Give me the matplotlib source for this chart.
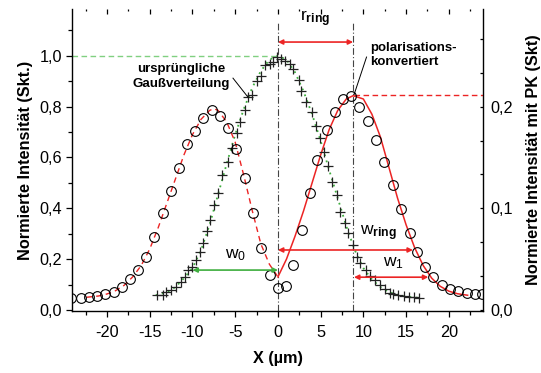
import matplotlib
matplotlib.use('Agg')
import matplotlib.pyplot as plt
from matplotlib.ticker import MultipleLocator, FixedLocator, FixedFormatter

plt.rcParams['font.family'] = ['Liberation Sans', 'DejaVu Sans']
plt.rcParams['mathtext.fontset'] = 'custom'
plt.rcParams['mathtext.rm'] = 'Liberation Sans'
plt.rcParams['mathtext.bf'] = 'Liberation Sans:bold'
plt.rcParams['mathtext.it'] = 'Liberation Sans:italic'

# ---------------- data ----------------
# polarisation-converted profile (circles), left-axis scale
circ_x = [-24.2, -23.1, -22.15, -21.2, -20.2, -19.2, -18.3, -17.3, -16.35, -15.4,
          -14.5, -13.5, -12.5, -11.55, -10.6, -9.7, -8.75, -7.75, -6.8, -5.8,
          -4.9, -3.9, -2.95, -1.95, -0.98, 0.0, 0.98, 1.76, 2.8, 3.7,
          4.6, 5.7, 6.67, 7.65, 8.55, 9.5, 10.5, 11.45, 12.4, 13.45,
          14.4, 15.4, 16.3, 17.25, 18.15, 19.15, 20.1, 21.1, 22.1, 23.05, 23.9]
circ_y = [0.046, 0.046, 0.050, 0.055, 0.063, 0.072, 0.089, 0.122, 0.157, 0.210,
          0.289, 0.380, 0.468, 0.558, 0.653, 0.706, 0.755, 0.785, 0.765, 0.715,
          0.633, 0.521, 0.380, 0.243, 0.138, 0.085, 0.094, 0.177, 0.315, 0.462,
          0.590, 0.709, 0.777, 0.829, 0.840, 0.797, 0.745, 0.667, 0.581, 0.492,
          0.396, 0.302, 0.230, 0.168, 0.129, 0.098, 0.083, 0.075, 0.068, 0.063, 0.062]

# original Gaussian profile (crosses)
cross_x = [-14.1, -13.5, -13.1, -12.5, -11.95, -11.4, -10.9, -10.5, -10.1, -9.6,
           -9.1, -8.75, -8.35, -7.95, -7.45, -6.98, -6.55, -5.9, -5.4, -4.8,
           -4.4, -3.8, -3.5, -3.05, -2.47, -1.95, -1.48, -0.9, -0.6, -0.1,
           0.4, 0.79, 1.38, 1.76, 2.47, 2.75, 3.34, 3.93, 4.44, 4.9,
           5.38, 5.88, 6.28, 6.94, 7.26, 7.85, 8.24, 8.82, 9.22, 9.6,
           10.3, 10.8, 11.4, 11.9, 12.55, 13.06, 13.5, 14.1, 14.7, 15.3, 15.9, 16.5]
cross_y = [0.059, 0.059, 0.070, 0.079, 0.092, 0.111, 0.131, 0.157, 0.171, 0.197,
           0.230, 0.262, 0.312, 0.354, 0.413, 0.459, 0.531, 0.581, 0.636, 0.695,
           0.741, 0.787, 0.836, 0.846, 0.900, 0.921, 0.964, 0.967, 0.974, 0.997,
           0.987, 0.980, 0.967, 0.947, 0.905, 0.860, 0.820, 0.780, 0.724, 0.676,
           0.623, 0.567, 0.505, 0.453, 0.385, 0.344, 0.304, 0.256, 0.210, 0.184,
           0.157, 0.135, 0.118, 0.098, 0.081, 0.068, 0.063, 0.059, 0.055, 0.052, 0.050, 0.046]

# fit curves
fitL_x = [-22.4, -21, -20, -19, -18, -17, -16, -15, -14, -13, -12, -11, -10, -9, -8,
          -7.5, -7, -6, -5, -4, -3, -2, -1, 0]
fitL_y = [0.050, 0.055, 0.063, 0.076, 0.097, 0.130, 0.175, 0.240, 0.325, 0.420, 0.515,
          0.610, 0.690, 0.750, 0.785, 0.792, 0.785, 0.740, 0.660, 0.530, 0.390, 0.260,
          0.180, 0.130]

fitR_x = [0, 1, 2, 3, 4, 5, 6, 7, 8, 8.8, 10, 11, 12, 13, 14, 15, 16, 17, 18, 19, 20, 21, 22.2]
fitR_y = [0.130, 0.200, 0.290, 0.390, 0.500, 0.610, 0.710, 0.785, 0.830, 0.843, 0.830,
          0.770, 0.680, 0.560, 0.440, 0.335, 0.245, 0.175, 0.125, 0.093, 0.074, 0.064, 0.058]

gauss_x = [-14.3, -13, -12, -11, -10, -9, -8, -7, -6, -5, -4, -3, -2, -1, 0,
           1, 2, 3, 4, 5, 6, 7, 8, 9, 10, 11, 12, 13, 14, 15, 16.4]
gauss_y = [0.058, 0.070, 0.090, 0.125, 0.165, 0.235, 0.335, 0.455, 0.575, 0.690,
           0.790, 0.875, 0.940, 0.985, 1.000, 0.985, 0.935, 0.860, 0.770, 0.665,
           0.550, 0.440, 0.330, 0.235, 0.165, 0.120, 0.090, 0.070, 0.060, 0.053, 0.048]

x_ticks = [-20, -15, -10, -5, 0, 5, 10, 15, 20]
x_ticklabels = ['-20', '-15', '-10', '-5', '0', '5', '10', '15', '20']
yl_ticks = [0.0, 0.2, 0.4, 0.6, 0.8, 1.0]
yl_ticklabels = ['0,0', '0,2', '0,4', '0,6', '0,8', '1,0']
yr_ticks = [0.0, 0.1, 0.2]
yr_ticklabels = ['0,0', '0,1', '0,2']

r_ring = 8.8        # ring radius (µm)
w0_left = -10.0     # w0 arrow start
w_ring_end = 15.8
w1_end = 17.6

RED = '#ec2424'
GREEN = '#3fae3f'
LGREEN = '#80d080'

# ---------------- figure ----------------
fig = plt.figure(figsize=(5.41, 3.73), dpi=100)
ax = fig.add_axes([72/541, 1-311/373, (483-72)/541, (311-9)/373])
xlim = (-24.1, 24.0)
ylim = (-0.004, 1.184)
ax.set_xlim(*xlim)
ax.set_ylim(*ylim)

# reference lines
ax.plot([xlim[0], 0], [1.0, 1.0], ls=(0, (4, 2.5)), color=LGREEN, lw=1.0, zorder=1)
ax.plot([r_ring + 0.1, xlim[1]], [0.845, 0.845], ls=(0, (4, 2.5)), color=RED, lw=1.0, zorder=1)
for xv in [0.0, r_ring]:
    ax.plot([xv, xv], [ylim[0], 1.135], ls=(0, (6, 2, 1, 2)), color='#444444', lw=0.8, zorder=1)

# fits
ax.plot(gauss_x, gauss_y, ls=(0, (1, 2.5)), color=GREEN, lw=1.3, zorder=2)
ax.plot(fitL_x, fitL_y, ls=(0, (4, 3)), color=RED, lw=1.0, zorder=2)
ax.plot(fitR_x, fitR_y, ls='-', color=RED, lw=1.1, zorder=2)

# data
ax.plot(cross_x, cross_y, ls='none', marker='+', ms=7.5, mew=0.9, color='#222222', zorder=3)
ax.plot(circ_x, circ_y, ls='none', marker='o', ms=7, mfc='none', mec='black', mew=0.8, zorder=4)

# arrows
def darrow(x0, x1, y, color):
    ax.annotate('', xy=(x1, y), xytext=(x0, y),
                arrowprops=dict(arrowstyle='<|-|>', color=color, lw=1.2,
                                mutation_scale=7, shrinkA=0, shrinkB=0), zorder=5)

darrow(0.0, r_ring, 1.054, RED)
darrow(w0_left, 0.0, 0.157, GREEN)
darrow(0.0, w_ring_end, 0.236, RED)
darrow(r_ring + 0.1, w1_end, 0.129, RED)

ax.text(4.3, 1.105, r'$\mathregular{r}_{\mathbf{ring}}$', fontsize=12.5, ha='center', va='bottom')
ax.text(-5.0, 0.185, r'$\mathregular{w}_{\mathregular{0}}$', fontsize=12.5, ha='center', va='bottom')
ax.text(9.6, 0.262, r'$\mathregular{w}_{\mathbf{ring}}$', fontsize=12.5, ha='left', va='bottom')
ax.text(12.3, 0.152, r'$\mathregular{w}_{\mathregular{1}}$', fontsize=12.5, ha='left', va='bottom')

# annotations
ax.text(-11.35, 0.918, 'ursprüngliche\nGaußverteilung', fontsize=9.5, fontweight='bold',
        ha='center', va='center', linespacing=1.3)
ax.plot([-5.26, -3.5], [0.912, 0.837], color='black', lw=0.7, zorder=5)
ax.text(10.8, 1.003, 'polarisations-\nkonvertiert', fontsize=9.5, fontweight='bold',
        ha='left', va='center', linespacing=1.2)
ax.plot([10.37, 8.92], [0.995, 0.848], color='black', lw=0.7, zorder=5)

# axes styling
for s in ['top', 'right']:
    ax.spines[s].set_visible(False)
for s in ['left', 'bottom']:
    ax.spines[s].set_linewidth(1.0)

ax.xaxis.set_major_locator(FixedLocator(x_ticks))
ax.xaxis.set_major_formatter(FixedFormatter(x_ticklabels))
ax.xaxis.set_minor_locator(MultipleLocator(2.5))
ax.yaxis.set_major_locator(FixedLocator(yl_ticks))
ax.yaxis.set_major_formatter(FixedFormatter(yl_ticklabels))
ax.yaxis.set_minor_locator(MultipleLocator(0.1))
ax.tick_params(axis='both', which='major', direction='out', length=4, width=0.9,
               labelsize=11.7, pad=3)
ax.tick_params(axis='both', which='minor', direction='out', length=3, width=0.9)
ax.tick_params(axis='x', pad=6)

# top ticks (inward, no spine)
secx = ax.secondary_xaxis('top')
secx.spines['top'].set_visible(False)
secx.xaxis.set_major_locator(FixedLocator(x_ticks))
secx.xaxis.set_minor_locator(MultipleLocator(2.5))
secx.tick_params(which='major', direction='in', length=3.4, width=0.9, labeltop=False)
secx.tick_params(which='minor', direction='in', length=1.4, width=0.9)

# right axis
ax2 = ax.twinx()
ax2.set_ylim(ylim[0] / 4, ylim[1] / 4)
for s in ['top', 'left', 'bottom']:
    ax2.spines[s].set_visible(False)
ax2.spines['right'].set_linewidth(1.0)
ax2.yaxis.set_major_locator(FixedLocator(yr_ticks))
ax2.yaxis.set_major_formatter(FixedFormatter(yr_ticklabels))
ax2.yaxis.set_minor_locator(MultipleLocator(0.1 / 3))
ax2.tick_params(axis='y', which='both', direction='in', length=2.5, width=0.9,
                labelsize=11.7, pad=5)

ax.set_xlabel('X (µm)', fontsize=11.7, fontweight='bold', labelpad=8)
ax.set_ylabel('Normierte Intensität (Skt.)', fontsize=11.7, fontweight='bold', labelpad=5)
ax2.set_ylabel('Normierte Intensität mit PK (Skt)', fontsize=11.7, fontweight='bold', labelpad=10)

fig.savefig('out.png', dpi=100)
